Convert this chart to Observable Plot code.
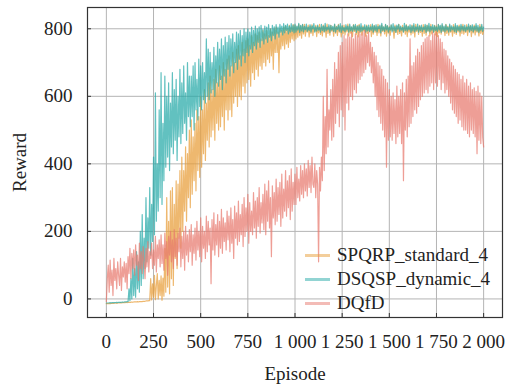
<!DOCTYPE html>
<html>
<head>
<meta charset="utf-8">
<script src="https://cdn.jsdelivr.net/npm/d3@7"></script>
<script src="https://cdn.jsdelivr.net/npm/@observablehq/plot@0.6"></script>
<style>
  html, body { margin: 0; padding: 0; background: #fff; }
  #wrap { position: relative; width: 507px; height: 385px; font-family: "Liberation Serif", "Times New Roman", serif; }
  #legend { position: absolute; left: 305px; top: 243px; font-size: 19px; color: #222; line-height: 24px; }
  #legend .row { display: flex; align-items: center; height: 24px; }
  #legend .sw { width: 25px; height: 3px; margin-right: 7px; }
</style>
</head>
<body>
<div id="wrap"><div id="legend"></div></div>
<script>
// Series names and colours
const seriesNames = ["SPQRP_standard_4", "DSQSP_dynamic_4", "DQfD"];
const seriesColors = ["#e79d38", "#25a9a7", "#e7786d"];

// Episode step between stored values
const episodeStep = 5;

// SPQRP_standard_4 reward, episodes 0..2000 every 5 (one row = 50 episodes)
const spqrp = [
  -14,-14,-14,-13,-14,-13,-13,-13,-13,-12,
  -12,-13,-12,-12,-12,-11,-12,-11,-11,-11,
  -11,-10,-11,-10,-10,-10,-10,-9,-10,-9,
  -9,-9,-9,-8,-9,-8,-8,-8,-8,-7,
  -7,-7,-6,-6,-6,-5,-5,60,-3,45,
  5,70,-2,40,75,0,55,10,68,-4,
  62,8,150,20,300,35,230,15,320,60,
  330,40,280,120,350,90,340,180,380,150,
  420,200,380,260,450,230,430,300,500,270,
  530,310,480,350,520,320,560,380,540,360,
  600,390,560,430,620,410,580,470,640,450,
  660,480,620,500,650,470,680,520,640,500,
  690,510,660,540,700,500,680,560,710,530,
  720,560,690,540,730,580,700,600,740,570,
  750,600,720,590,760,630,740,610,765,640,
  770,650,750,630,780,670,760,650,785,680,
  780,660,790,690,770,680,795,700,785,690,
  795,710,780,700,800,720,790,680,798,730,
  805,730,790,670,800,740,795,750,805,740,
  808,755,800,745,810,760,805,770,812,765,
  810,770,806,775,813,780,808,772,812,785,
  813,778,806,790,811,776,808,786,812,780,
  804,792,810,777,807,788,813,783,805,779,
  811,791,808,775,814,786,806,781,810,793,
  803,778,812,787,807,780,813,790,805,776,
  809,785,811,782,806,791,814,779,808,787,
  804,777,812,792,807,783,810,776,813,789,
  805,781,809,793,806,778,811,786,804,791,
  812,777,808,784,810,790,806,780,813,788,
  807,779,811,792,805,785,812,778,809,787,
  806,781,810,795,803,772,811,789,807,783,
  813,786,805,779,810,791,806,784,812,777,
  808,790,804,782,811,787,809,776,813,792,
  806,783,810,789,805,778,812,786,808,781,
  811,793,807,779,813,785,804,790,810,782,
  808,777,812,788,806,784,811,792,805,780,
  813,786,807,781,810,790,804,778,812,787,
  809,783,806,791,811,779,808,786,813,784,
  805,789,812,780,807,792,810,777,806,788,
  811,782,808,790,804,779,813,786,807,783,
  795
];

// DSQSP_dynamic_4 reward
const dsqsp = [
  -12,-12,-12,-12,-11,-12,-11,-11,-11,-11,
  -11,-10,-11,-10,-10,-10,-10,-9,-10,-9,
  -9,-9,-8,-8,30,-5,60,0,120,10,
  90,5,140,30,110,20,200,40,250,60,
  180,90,300,110,240,150,330,130,280,170,
  420,190,610,230,400,260,560,300,670,280,
  520,350,660,390,600,420,640,380,580,450,
  670,430,620,470,650,410,600,480,680,460,
  640,490,690,520,610,470,700,540,660,510,
  660,540,690,500,700,560,650,530,710,570,
  690,560,700,590,670,580,770,600,740,590,
  730,610,700,620,745,600,720,640,760,630,
  740,650,770,620,750,660,775,640,760,680,
  780,660,770,690,785,670,760,700,790,680,
  785,710,795,690,780,720,800,700,790,730,
  800,720,790,740,805,730,795,750,808,740,
  800,760,806,745,810,765,798,755,808,770,
  805,760,812,775,800,765,810,780,806,770,
  812,785,805,775,813,790,808,782,815,788,
  810,795,814,785,808,790,815,792,811,788,
  814,790,808,796,816,789,810,794,813,791,
  807,797,814,792,805,795,812,790,809,799,
  815,790,806,793,811,796,804,790,813,795,
  808,791,816,794,805,797,812,789,810,796,
  807,792,814,790,806,798,811,793,815,789,
  809,795,804,791,812,797,808,790,814,794,
  806,792,811,796,813,789,807,795,810,791,
  815,793,805,797,812,790,808,794,811,792,
  806,796,814,790,809,795,812,791,807,800,
  811,788,816,795,806,792,813,797,809,790,
  805,796,812,791,815,794,807,789,811,798,
  813,792,808,796,804,790,816,795,810,793,
  807,797,812,789,809,794,815,791,806,796,
  814,790,808,795,811,792,805,797,813,789,
  810,794,816,791,807,796,812,790,809,795,
  806,792,813,797,810,789,815,794,808,791,
  812,796,805,790,814,793,809,797,806,792,
  815,789,810,795,807,791,813,796,808,794,
  811,792,806,797,814,790,809,795,812,791,
  807,796,815,793,810,789,806,795,813,792,
  805
];

// DQfD reward
const dqfd = [
  -8,60,100,20,115,40,85,10,120,55,
  90,30,110,70,40,120,25,95,65,110,
  50,105,30,125,75,150,60,135,90,145,
  70,160,100,130,55,165,90,140,75,155,
  110,60,150,95,170,80,140,120,165,90,
  145,100,185,80,160,120,175,95,190,105,
  160,85,195,120,170,70,185,130,200,110,
  175,90,205,125,180,100,195,140,210,95,
  185,120,200,85,215,130,190,110,205,140,
  220,100,190,135,210,115,230,145,200,125,
  240,110,215,150,200,120,245,140,230,160,
  210,45,235,145,255,130,220,160,250,125,
  230,150,265,135,240,170,225,145,260,175,
  245,140,270,165,235,120,275,180,255,160,
  290,170,250,190,280,155,300,185,270,200,
  310,165,285,200,260,190,315,210,290,180,
  300,215,330,195,285,225,310,205,340,190,
  320,230,350,210,300,125,335,240,315,220,
  355,230,330,250,345,215,370,240,325,260,
  380,245,350,270,365,235,385,260,345,280,
  370,280,390,300,355,290,395,310,380,300,
  400,320,385,305,410,330,395,315,420,340,
  330,400,300,380,340,110,390,320,420,350,
  600,380,540,430,680,450,560,500,620,470,
  650,480,700,520,680,550,730,510,750,560,
  760,540,780,500,770,580,785,560,775,600,
  790,590,770,620,785,610,780,640,790,650,
  785,660,790,670,795,680,780,700,790,690,
  760,670,745,640,730,600,720,560,700,540,
  690,520,680,500,660,480,650,390,640,470,
  620,480,600,470,610,490,590,460,630,480,
  600,490,620,460,640,350,610,500,650,480,
  660,510,770,520,690,540,700,560,720,550,
  740,570,730,590,750,600,760,610,770,620,
  775,610,780,630,765,640,790,620,785,640,
  790,630,780,650,770,620,760,640,740,610,
  735,620,720,600,710,580,700,560,690,550,
  680,540,670,520,665,530,650,510,660,500,
  640,500,650,490,630,480,640,500,620,490,
  625,480,615,430,630,470,610,460,600,480,
  450
];

const seriesValues = [spqrp, dsqsp, dqfd];

// Axis ticks
const xTicks = [0, 250, 500, 750, 1000, 1250, 1500, 1750, 2000];
const yTicks = [0, 200, 400, 600, 800];

const fmt = d3.formatLocale({decimal: ".", thousands: " ", grouping: [3], currency: ["", ""]}).format(",");

const rows = seriesValues.map((vals, s) =>
  vals.map((v, i) => ({episode: i * episodeStep, reward: v, series: seriesNames[s]})));

const chart = Plot.plot({
  width: 507,
  height: 385,
  marginLeft: 87,
  marginRight: 5,
  marginTop: 7,
  marginBottom: 68,
  style: {fontFamily: "'Liberation Serif', 'Times New Roman', serif", fontSize: "19px", color: "#222", background: "transparent"},
  x: {domain: [-100, 2100]},
  y: {domain: [-55, 863]},
  marks: [
    Plot.gridX(xTicks, {stroke: "#b4b4b4", strokeOpacity: 1, strokeWidth: 1}),
    Plot.gridY(yTicks, {stroke: "#b4b4b4", strokeOpacity: 1, strokeWidth: 1}),
    ...rows.map((r, s) => Plot.lineY(r, {x: "episode", y: "reward", stroke: seriesColors[s], strokeWidth: 1.2, strokeOpacity: 0.72})),
    Plot.frame({stroke: "#333", strokeWidth: 1.2}),
    Plot.axisX(xTicks, {tickSize: 0, tickPadding: 17, tickFormat: fmt, label: "Episode", labelAnchor: "center", labelArrow: "none", labelOffset: 62}),
    Plot.axisX(xTicks, {tickSize: -4, text: null, label: null, stroke: "#333"}),
    Plot.axisY(yTicks, {tickSize: 0, tickPadding: 15, tickFormat: fmt, label: "Reward", labelAnchor: "center", labelArrow: "none", labelOffset: 75}),
    Plot.axisY(yTicks, {tickSize: -4, text: null, label: null, stroke: "#333"})
  ]
});

const wrap = document.getElementById("wrap");
wrap.insertBefore(chart, wrap.firstChild);

const legend = document.getElementById("legend");
seriesNames.forEach((name, i) => {
  const row = document.createElement("div");
  row.className = "row";
  const sw = document.createElement("span");
  sw.className = "sw";
  sw.style.background = seriesColors[i];
  sw.style.opacity = 0.5;
  const t = document.createElement("span");
  t.textContent = name;
  row.appendChild(sw);
  row.appendChild(t);
  legend.appendChild(row);
});
</script>
</body>
</html>
